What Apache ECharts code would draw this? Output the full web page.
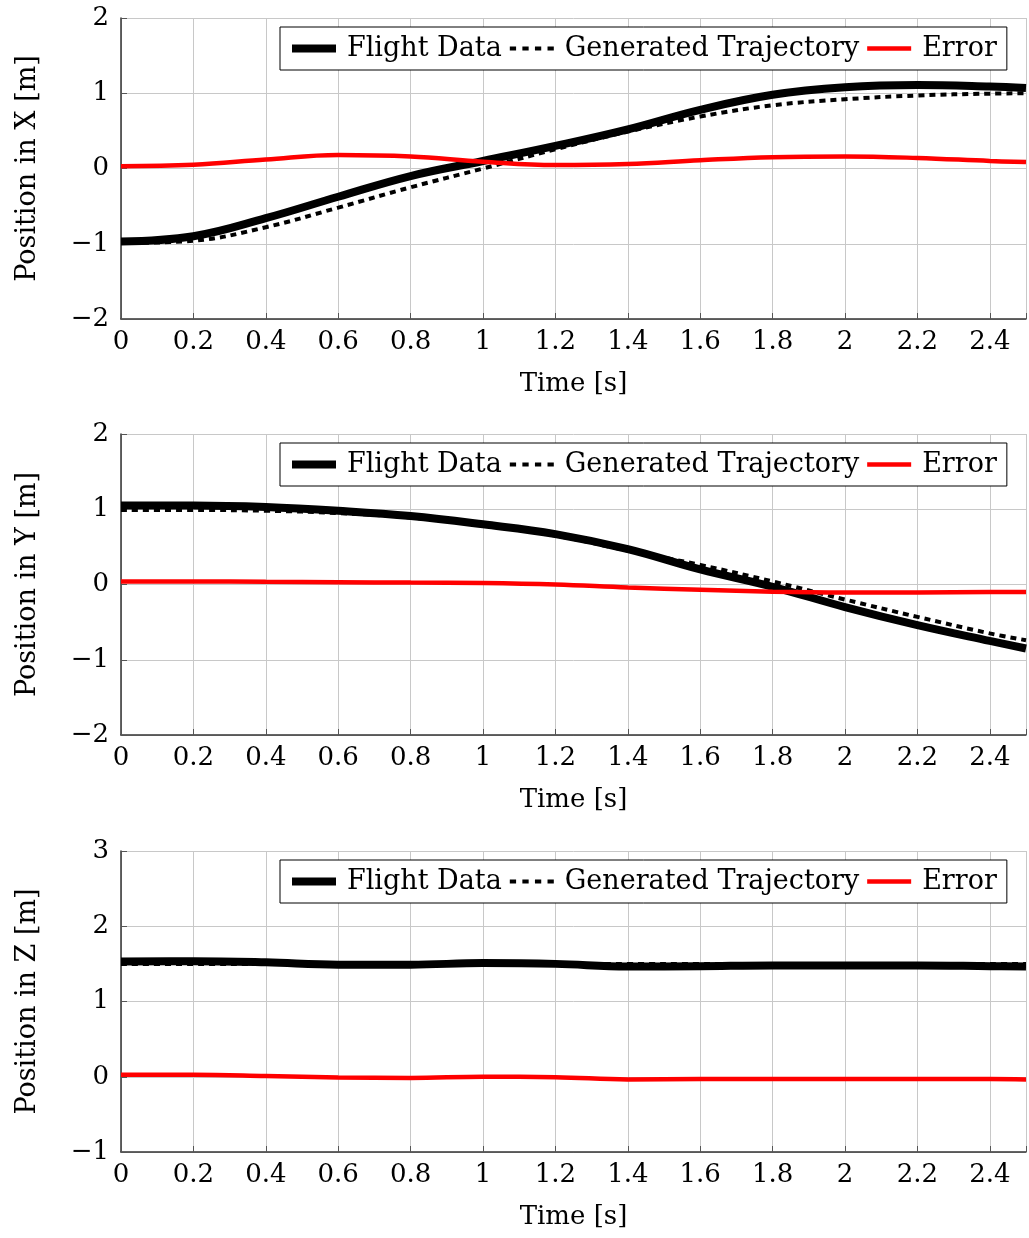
<!DOCTYPE html>
<html>
<head>
<meta charset="utf-8">
<title>Flight trajectory</title>
<style>
  html, body { margin: 0; padding: 0; background: #fff; }
  #charts { width: 1029px; height: 1238px; }
</style>
</head>
<body>
<div id="charts"></div>
<script src="https://cdn.jsdelivr.net/npm/echarts@6/dist/echarts.min.js"></script>
<script>
// time samples [s]
var time = [0, 0.2, 0.4, 0.6, 0.8, 1.0, 1.2, 1.4, 1.6, 1.8, 2.0, 2.2, 2.4, 2.5];

// position in X
var xFlight = [-0.97, -0.90, -0.66, -0.375, -0.10, 0.10, 0.30, 0.52, 0.78, 0.98, 1.08, 1.11, 1.09, 1.07];
var xGen    = [-0.99, -0.96, -0.78, -0.52, -0.25, 0.0, 0.255, 0.49, 0.69, 0.84, 0.92, 0.97, 0.995, 1.0];
var xErr    = [0.03, 0.05, 0.12, 0.18, 0.16, 0.09, 0.045, 0.06, 0.11, 0.15, 0.16, 0.14, 0.10, 0.085];

// position in Y
var yFlight = [1.05, 1.05, 1.03, 0.98, 0.91, 0.80, 0.67, 0.47, 0.20, -0.03, -0.30, -0.54, -0.75, -0.85];
var yGen    = [0.99, 0.99, 0.98, 0.95, 0.89, 0.79, 0.65, 0.45, 0.26, 0.04, -0.20, -0.43, -0.65, -0.74];
var yErr    = [0.04, 0.04, 0.035, 0.03, 0.025, 0.02, 0.0, -0.04, -0.07, -0.095, -0.105, -0.105, -0.10, -0.10];

// position in Z
var zFlight = [1.53, 1.535, 1.52, 1.49, 1.49, 1.51, 1.50, 1.465, 1.47, 1.48, 1.48, 1.48, 1.47, 1.465];
var zGen    = [1.5, 1.5, 1.5, 1.5, 1.5, 1.5, 1.5, 1.5, 1.5, 1.5, 1.5, 1.5, 1.5, 1.5];
var zErr    = [0.025, 0.025, 0.01, -0.01, -0.015, 0.0, -0.005, -0.035, -0.03, -0.03, -0.03, -0.03, -0.03, -0.035];

var xTicks = [0, 0.2, 0.4, 0.6, 0.8, 1, 1.2, 1.4, 1.6, 1.8, 2, 2.2, 2.4];

var names = ['Flight Data', 'Generated Trajectory', 'Error'];
var axisNames = ['Position in X [m]', 'Position in Y [m]', 'Position in Z [m]'];
var yRanges = [[-2, 2], [-2, 2], [-1, 3]];
var tops = [18, 434, 851];

var font = '"DejaVu Serif", "Liberation Serif", serif';
var fs = 26;

// legend icons: thick line, dashed line, red line
var icons = [
  'path://M0,0h44v8h-44z',
  'path://M0,0h6v4h-6zM12,0h6v4h-6zM24,0h6v4h-6zM36,0h6v4h-6z',
  'path://M0,0h44v4.5h-44z'
];

function pairs(vals) {
  var out = [];
  for (var i = 0; i < time.length; i++) {
    out.push([time[i], vals[i]]);
  }
  return out;
}

function minusFmt(v) {
  return v < 0 ? '\u2212' + Math.abs(v) : String(v);
}

var grids = [], xAxes = [], yAxes = [], legends = [], series = [];
var sets = [[xFlight, xGen, xErr], [yFlight, yGen, yErr], [zFlight, zGen, zErr]];

for (var k = 0; k < 3; k++) {
  grids.push({ left: 121, top: tops[k], width: 906, height: 301 });

  xAxes.push({
    gridIndex: k,
    type: 'value',
    min: 0, max: 2.5, interval: 0.2,
    name: 'Time [s]',
    nameLocation: 'middle',
    nameGap: 52,
    nameTextStyle: { color: '#000', fontFamily: font, fontSize: fs },
    axisLine: { onZero: false, lineStyle: { color: '#333', width: 1.5 } },
    axisTick: { inside: true, length: 6, lineStyle: { color: '#555' } },
    axisLabel: {
      color: '#000', fontFamily: font, fontSize: fs, margin: 10,
      formatter: function (v) {
        var r = Math.round(v * 10) / 10;
        return xTicks.indexOf(r) >= 0 ? String(r) : '';
      }
    },
    splitLine: { show: true, lineStyle: { color: '#c8c8c8', width: 1 } }
  });

  yAxes.push({
    gridIndex: k,
    type: 'value',
    min: yRanges[k][0], max: yRanges[k][1], interval: 1,
    name: axisNames[k],
    nameLocation: 'middle',
    nameGap: 80,
    nameTextStyle: { color: '#000', fontFamily: font, fontSize: 27 },
    axisLine: { show: true, onZero: false, lineStyle: { color: '#333', width: 1.5 } },
    axisTick: { show: true, inside: true, length: 6, lineStyle: { color: '#555' } },
    axisLabel: { color: '#000', fontFamily: font, fontSize: fs, margin: 12, formatter: minusFmt },
    splitLine: { show: true, lineStyle: { color: '#c8c8c8', width: 1 } }
  });

  legends.push({
    left: 280,
    top: tops[k] + 9,
    orient: 'horizontal',
    data: [
      { name: names[0], icon: icons[0] },
      { name: names[1], icon: icons[1] },
      { name: names[2], icon: icons[2] }
    ],
    itemWidth: 44,
    itemHeight: 12,
    itemGap: 8,
    padding: [8, 10, 8, 12],
    borderColor: '#000',
    borderWidth: 1,
    backgroundColor: '#fff',
    selectedMode: false,
    textStyle: { color: '#000', fontFamily: font, fontSize: 27, padding: [0, 0, 0, 6] }
  });

  series.push({
    name: names[0], type: 'line', xAxisIndex: k, yAxisIndex: k,
    data: pairs(sets[k][0]), smooth: 0.4, symbol: 'none',
    lineStyle: { color: '#000', width: 8 }, itemStyle: { color: '#000' }
  });
  series.push({
    name: names[1], type: 'line', xAxisIndex: k, yAxisIndex: k,
    data: pairs(sets[k][1]), smooth: 0.4, symbol: 'none',
    lineStyle: { color: '#000', width: 4, type: [6, 5] }, itemStyle: { color: '#000' }
  });
  series.push({
    name: names[2], type: 'line', xAxisIndex: k, yAxisIndex: k,
    data: pairs(sets[k][2]), smooth: 0.4, symbol: 'none',
    lineStyle: { color: '#ff0000', width: 4.5 }, itemStyle: { color: '#ff0000' }
  });
}

var myChart = echarts.init(document.getElementById('charts'));
var option = {
  animation: false,
  backgroundColor: '#fff',
  grid: grids,
  xAxis: xAxes,
  yAxis: yAxes,
  legend: legends,
  series: series
};
myChart.setOption(option);
</script>
</body>
</html>
